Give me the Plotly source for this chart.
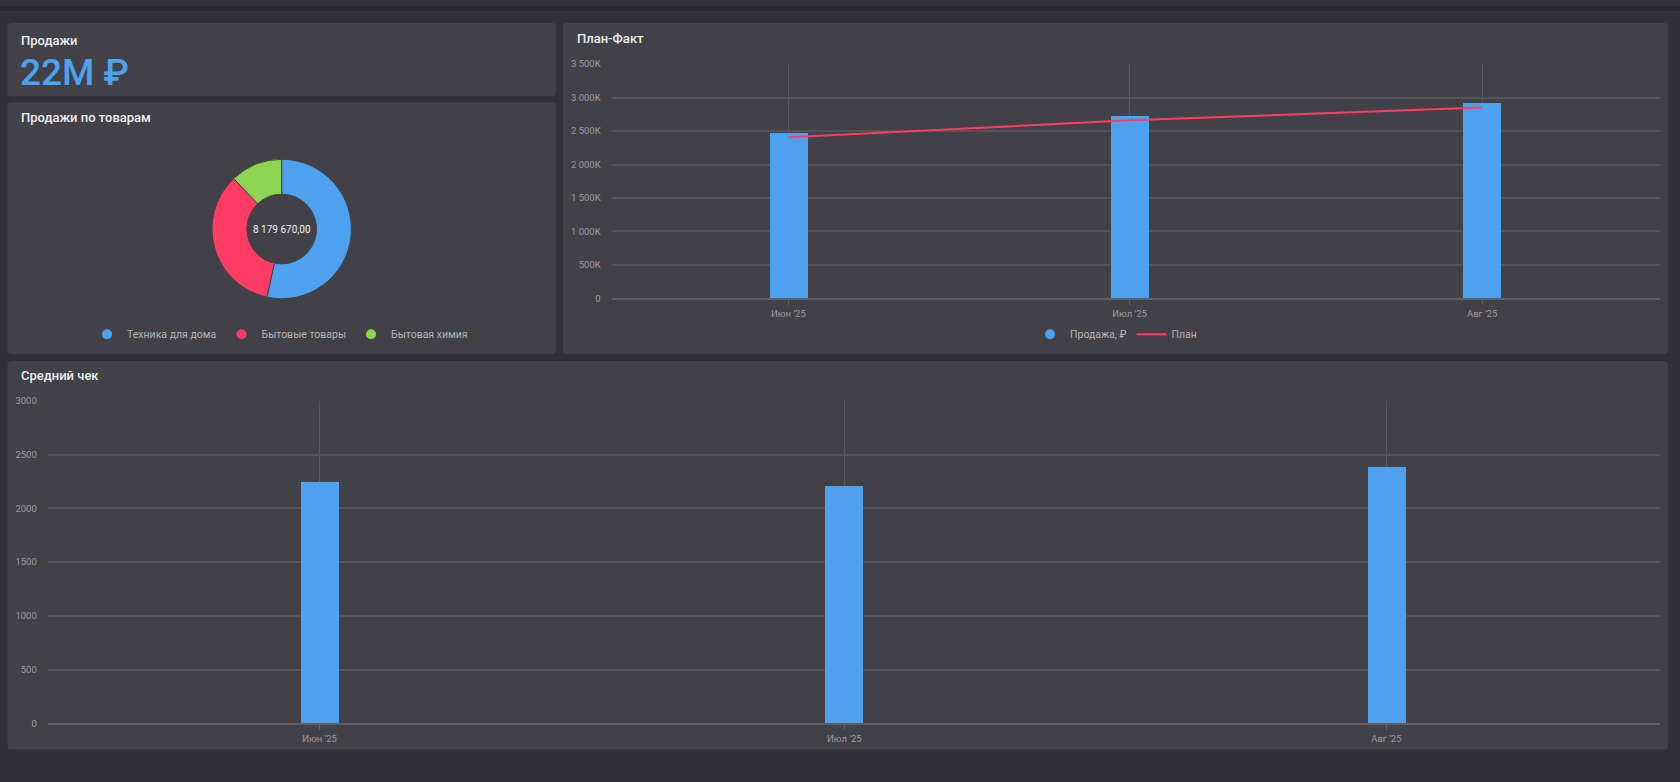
import plotly.graph_objects as go

# ---------------------------------------------------------
# DATA
# ---------------------------------------------------------
kpi_title = "Продажи"
kpi_value = 22_000_000

pie_title = "Продажи по товарам"
pie_labels = ["Техника для дома", "Бытовые товары", "Бытовая химия"]
pie_values = [4_367_940, 2_822_000, 989_730]

plan_title = "План-Факт"
months = ["2025-06-01", "2025-07-01", "2025-08-01"]
month_labels = ["Июн '25", "Июл '25", "Авг '25"]
sales_fact = [2_465_000, 2_725_000, 2_922_000]
sales_plan = [2_408_000, 2_660_000, 2_851_000]
plan_ticks = [0, 500_000, 1_000_000, 1_500_000, 2_000_000, 2_500_000, 3_000_000, 3_500_000]

check_title = "Средний чек"
avg_check = [2250, 2204, 2390]
check_ticks = [0, 500, 1000, 1500, 2000, 2500, 3000]

# ---------------------------------------------------------
# STYLE / LAYOUT HELPERS
# ---------------------------------------------------------
W, H = 1680, 782
BG = "#323137"
CARD = "#424147"
BLUE = "#4da1ef"
RED = "#ff3d64"
GREEN = "#8bd553"
GRID = "#54535a"
TICK = "#9c9ba1"
FONT = "Roboto"


def px(x):
    return x / W


def py(y):
    return 1 - y / H


def card_path(x0, y0, x1, y1, r=4):
    pts = [
        ("M", x0 + r, y0), ("L", x1 - r, y0), ("Q", x1, y0, x1, y0 + r),
        ("L", x1, y1 - r), ("Q", x1, y1, x1 - r, y1),
        ("L", x0 + r, y1), ("Q", x0, y1, x0, y1 - r),
        ("L", x0, y0 + r), ("Q", x0, y0, x0 + r, y0),
    ]
    out = []
    for p in pts:
        coords = p[1:]
        s = " ".join(f"{px(coords[i]):.5f},{py(coords[i + 1]):.5f}" for i in range(0, len(coords), 2))
        out.append(p[0] + " " + s)
    return " ".join(out) + " Z"


def k_label(v):
    if v == 0:
        return "0"
    return f"{v // 1000:,}".replace(",", " ") + "K"


def ru_number(v):
    return f"{v:,.2f}".replace(",", " ").replace(".", ",")


DAY_MS = 86_400_000
x_range = ["2025-05-16 11:00", "2025-08-16 15:30"]
range_days = 92.1875

fig = go.Figure()

# ---------------------------------------------------------
# DONUT
# ---------------------------------------------------------
cx, cy, rad = 281.7, 226.2, 70.7
fig.add_trace(go.Pie(
    labels=pie_labels, values=pie_values,
    hole=0.5, sort=False, direction="clockwise", rotation=0,
    marker=dict(colors=[BLUE, RED, GREEN], line=dict(color=CARD, width=1)),
    textinfo="none", showlegend=False,
    domain=dict(x=[px(cx - rad), px(cx + rad)], y=[py(cy + rad), py(cy - rad)]),
))
for name, col in zip(pie_labels, [BLUE, RED, GREEN]):
    fig.add_trace(go.Scatter(
        x=[None], y=[None], mode="markers", name=name,
        marker=dict(color=col, size=10, symbol="circle"),
        legend="legend", xaxis="x", yaxis="y",
    ))

# ---------------------------------------------------------
# PLAN-FACT
# ---------------------------------------------------------
plan_px_per_day = (1660 - 611.7) / range_days
fig.add_trace(go.Bar(
    x=months, y=sales_fact, marker=dict(color=BLUE, line=dict(width=0)),
    width=38 / plan_px_per_day * DAY_MS, showlegend=False,
    xaxis="x", yaxis="y",
))
fig.add_trace(go.Scatter(
    x=[None], y=[None], mode="markers", name="Продажа, ₽",
    marker=dict(color=BLUE, size=10, symbol="circle"),
    legend="legend2", xaxis="x", yaxis="y",
))
fig.add_trace(go.Scatter(
    x=months, y=sales_plan, mode="lines", name="План",
    line=dict(color=RED, width=2), legend="legend2",
    xaxis="x", yaxis="y",
))

# ---------------------------------------------------------
# AVERAGE CHECK
# ---------------------------------------------------------
check_px_per_day = (1660 - 47.8) / range_days
fig.add_trace(go.Bar(
    x=months, y=avg_check, marker=dict(color=BLUE, line=dict(width=0)),
    width=38 / check_px_per_day * DAY_MS, showlegend=False,
    xaxis="x2", yaxis="y2",
))

# ---------------------------------------------------------
# CARDS, TITLES
# ---------------------------------------------------------
shapes = [dict(type="rect", xref="paper", yref="paper", x0=0, x1=1, y0=py(5), y1=1,
               fillcolor="#29282d", line=dict(width=0), layer="below")]
for box in [(7.5, 17.3, 556, 91.5), (7.5, 98, 556, 353),
            (563, 17.3, 1668, 353), (7.5, 360, 1668, 754)]:
    shapes.append(dict(type="path", xref="paper", yref="paper", path=card_path(*box),
                       fillcolor=CARD, line=dict(width=0), layer="below"))

title_font = dict(family=FONT, size=13, color="#ececee", weight=500)
annotations = []
for text, x, y in [(kpi_title, 19, 35), (pie_title, 19, 113.5),
                   (plan_title, 575, 33), (check_title, 19, 375)]:
    annotations.append(dict(text=text, x=px(x), y=py(y), xref="paper", yref="paper",
                            xanchor="left", yanchor="middle", showarrow=False, font=title_font))
annotations.append(dict(text=f"{kpi_value // 1_000_000}M ₽", x=px(17.5), y=py(67),
                        xref="paper", yref="paper", xanchor="left", yanchor="middle",
                        showarrow=False, font=dict(family=FONT, size=37, color=BLUE, weight=500)))
annotations.append(dict(text=ru_number(sum(pie_values)), x=px(cx), y=py(cy),
                        xref="paper", yref="paper", xanchor="center", yanchor="middle",
                        showarrow=False, font=dict(family=FONT, size=10, color="#f2f2f4")))

tick_font = dict(family=FONT, size=9.5, color=TICK)
xaxis_common = dict(
    type="date", range=x_range, tickvals=months, ticktext=month_labels,
    showgrid=True, gridcolor="#58575d", gridwidth=1,
    showline=True, linecolor="#605f65", linewidth=2,
    ticks="outside", ticklen=5, tickcolor="#605f65", tickwidth=1,
    tickfont=tick_font, zeroline=False, fixedrange=True,
)
legend_font = dict(family=FONT, size=10.5, color="#b4b3b9")

fig.update_layout(
    width=W, height=H, autosize=False,
    margin=dict(l=0, r=0, t=0, b=0),
    paper_bgcolor=BG, plot_bgcolor="rgba(0,0,0,0)",
    font=dict(family=FONT, color=TICK),
    shapes=shapes, annotations=annotations,
    bargap=0,
    xaxis=dict(domain=[px(611.7), px(1660)], anchor="y", **xaxis_common),
    yaxis=dict(domain=[py(296.5), py(59)], anchor="x", range=[0, 3_500_000],
               tickvals=plan_ticks, ticktext=[k_label(v) for v in plan_ticks],
               showgrid=True, gridcolor=GRID, gridwidth=1.5, zeroline=False,
               showline=False, tickfont=tick_font, ticklabelstandoff=10, fixedrange=True),
    xaxis2=dict(domain=[px(47.8), px(1660)], anchor="y2", **xaxis_common),
    yaxis2=dict(domain=[py(727.5), py(400.7)], anchor="x2", range=[0, 3000],
                tickvals=check_ticks, ticktext=[str(v) for v in check_ticks],
                showgrid=True, gridcolor=GRID, gridwidth=1.5, zeroline=False,
                showline=False, tickfont=tick_font, ticklabelstandoff=10, fixedrange=True),
    legend=dict(orientation="h", x=px(280), xanchor="center", y=py(333), yanchor="middle",
                font=legend_font, bgcolor="rgba(0,0,0,0)", itemwidth=30),
    legend2=dict(orientation="h", x=px(1116), xanchor="center", y=py(333), yanchor="middle",
                 font=legend_font, bgcolor="rgba(0,0,0,0)", itemwidth=30),
    hovermode=False,
)

fig.write_html(
    "out.html",
    config={"displayModeBar": False},
    post_script="document.body.style.margin='0';document.body.style.background='#323137';",
)
